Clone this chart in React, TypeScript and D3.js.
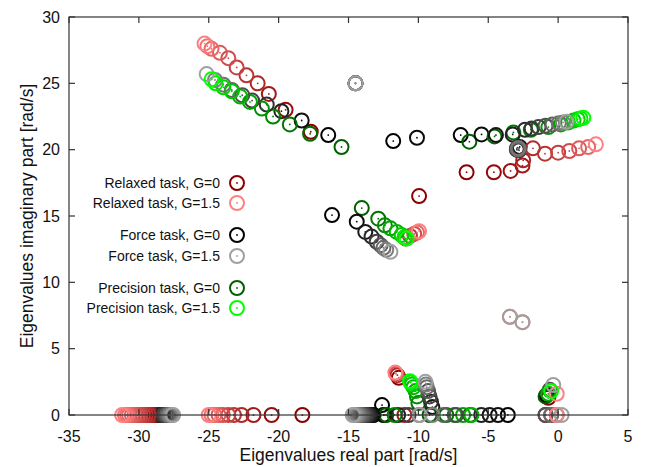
import React from "react";
import * as d3 from "d3";

const xTicks = [-35, -30, -25, -20, -15, -10, -5, 0, 5];
const yTicks = [0, 5, 10, 15, 20, 25, 30];
const taskNames = ["Relaxed task", "Force task", "Precision task"];
const gainValues = [0, 1.5];
const relaxedColors = ["#8b0000", "#ff8080"];
const forceColors = ["#000000", "#a0a0a0"];
const precisionColors = ["#006000", "#00ff00"];

// [G, real part, imaginary part]
const relaxedPoints: [number, number, number][] = [
  [0, -17.7, 21.35], [0.15, -19.5, 23.0], [0.3, -20.7, 24.2], [0.45, -21.5, 25.0], [0.6, -22.3, 25.6],
  [0.75, -23.0, 26.2], [0.9, -23.6, 26.9], [1.05, -24.2, 27.3], [1.2, -24.8, 27.6], [1.35, -25.1, 27.8], [1.5, -25.3, 28.0],
  [0, -6.55, 18.3], [0.1, -4.6, 18.3], [0.2, -3.4, 18.4], [0.3, -2.55, 18.8], [0.4, -2.5, 19.2], [0.5, -1.8, 20.1],
  [0.6, -0.94, 19.7], [0.75, 0.0, 19.77], [0.9, 0.8, 19.9], [1.05, 1.5, 20.1], [1.2, 2.15, 20.2], [1.5, 2.7, 20.4],
  [0, -9.95, 16.5], [0.3, -10.9, 13.3], [0.6, -10.6, 13.5], [0.9, -10.3, 13.65], [1.2, -10.1, 13.75], [1.5, -9.95, 13.85],
  [0, -11.4, 2.8], [0.5, -11.5, 3.0], [1.0, -11.6, 3.1], [1.5, -11.65, 3.2],
  [0, -0.7, 1.3], [1.5, -0.1, 1.6],
  [1.2, -3.45, 7.4], [1.2, -2.55, 7.0],
  [0, -28.3, 0], [0.1, -28.5, 0], [0.2, -28.7, 0], [0.3, -28.9, 0], [0.4, -29.1, 0], [0.5, -29.3, 0], [0.6, -29.5, 0],
  [0.7, -29.7, 0], [0.8, -29.9, 0], [0.9, -30.1, 0], [1.0, -30.3, 0], [1.1, -30.5, 0], [1.2, -30.7, 0], [1.3, -30.85, 0],
  [1.4, -31.0, 0], [1.5, -31.2, 0],
  [0, -18.3, 0], [0.15, -20.5, 0], [0.3, -21.8, 0], [0.45, -22.65, 0], [0.6, -23.2, 0], [0.75, -23.6, 0], [0.9, -24.0, 0],
  [1.05, -24.3, 0], [1.2, -24.6, 0], [1.35, -24.8, 0], [1.5, -25.0, 0],
  [0, -12.4, 0], [0.3, -11.0, 0],
  [0, -0.9, 0], [0.7, -0.5, 0], [1.5, -0.1, 0],
];

const forcePoints: [number, number, number][] = [
  [0, -16.45, 21.1], [0.15, -18.35, 22.2], [0.3, -19.8, 22.9], [0.45, -20.85, 23.4], [0.6, -21.9, 23.7],
  [0.75, -22.6, 24.1], [0.9, -23.35, 24.5], [1.05, -23.95, 24.9], [1.2, -24.55, 25.25], [1.5, -25.15, 25.7],
  [0, -14.5, 25.0], [0.5, -14.5, 25.0], [1.0, -14.5, 25.0], [1.5, -14.5, 25.0],
  [0, -11.8, 20.65], [0.1, -10.1, 20.9],
  [0.2, -2.75, 20.2], [0.3, -2.95, 20.0], [0.4, -2.8, 19.95], [0.5, -2.9, 20.15], [0.6, -2.85, 20.05],
  [0.7, -2.95, 20.1], [0.8, -2.8, 20.1], [0.9, -2.85, 20.0], [1.0, -2.9, 20.05], [1.1, -2.85, 20.1],
  [0, -6.97, 21.1], [0.1, -5.48, 21.15], [0.2, -4.45, 21.1], [0.3, -3.25, 21.15], [0.4, -2.37, 21.5], [0.5, -1.9, 21.6],
  [0.6, -1.4, 21.7], [0.75, -0.9, 21.8], [0.9, -0.4, 21.9], [1.05, 0.05, 22.0], [1.2, 0.35, 22.05], [1.5, 0.6, 22.1],
  [0, -16.18, 15.07], [0.1, -14.41, 14.57], [0.25, -13.8, 13.8], [0.4, -13.35, 13.45], [0.6, -12.98, 13.06],
  [0.8, -12.7, 12.8], [1.0, -12.5, 12.6], [1.2, -12.3, 12.45], [1.5, -12.0, 12.3],
  [0, -12.6, 0.75],
  [0.2, -9.0, 0.6], [0.4, -9.1, 1.0], [0.6, -9.2, 1.4], [0.8, -9.3, 1.8], [1.0, -9.4, 2.1], [1.2, -9.45, 2.3], [1.5, -9.5, 2.5],
  [1.5, -3.45, 7.4], [1.5, -2.55, 7.0],
  [0, -0.83, 1.5], [0.7, -0.6, 1.9], [1.5, -0.35, 2.26],
  [0, -28.8, 0], [0.15, -28.65, 0], [0.3, -28.5, 0], [0.45, -28.35, 0], [0.6, -28.2, 0], [0.75, -28.05, 0],
  [0.9, -27.95, 0], [1.05, -27.85, 0], [1.2, -27.75, 0], [1.35, -27.65, 0], [1.5, -27.55, 0],
  [0, -13.2, 0], [0.1, -13.3, 0], [0.2, -13.4, 0], [0.3, -13.5, 0], [0.4, -13.6, 0], [0.5, -13.7, 0], [0.6, -13.8, 0],
  [0.7, -13.9, 0], [0.8, -14.0, 0], [0.9, -14.1, 0], [1.0, -14.2, 0], [1.1, -14.3, 0], [1.2, -14.4, 0], [1.3, -14.5, 0],
  [1.4, -14.6, 0], [1.5, -14.7, 0],
  [0, -3.6, 0], [0.1, -4.3, 0], [0.2, -4.9, 0], [0.3, -5.5, 0], [0.5, -6.3, 0], [0.7, -7.3, 0], [0.9, -8.2, 0], [1.2, -9.0, 0], [1.5, -9.9, 0],
  [0, -12.5, 0], [0.3, -11.45, 0], [0.6, -10.7, 0], [1.0, -9.95, 0],
  [0.8, -0.9, 0], [1.0, -0.5, 0], [1.2, -0.1, 0], [1.5, 0.25, 0],
];

const precisionPoints: [number, number, number][] = [
  [0, -15.5, 20.2], [0.1, -17.75, 21.2], [0.2, -19.2, 21.9], [0.35, -20.4, 22.5], [0.5, -21.2, 23.1], [0.65, -22.05, 23.6],
  [0.8, -22.75, 24.0], [0.95, -23.35, 24.4], [1.1, -23.95, 24.7], [1.3, -24.5, 25.0], [1.5, -24.8, 25.3],
  [0, -6.35, 20.6], [0.1, -4.55, 21.0], [0.2, -3.2, 21.3], [0.35, -1.95, 21.5], [0.5, -0.7, 21.7], [0.65, 0.2, 21.9],
  [0.8, 0.7, 22.05], [0.95, 1.1, 22.2], [1.1, 1.4, 22.3], [1.3, 1.6, 22.35], [1.5, 1.8, 22.4],
  [0, -14.05, 15.6], [0.2, -12.87, 14.8], [0.4, -12.4, 14.3], [0.6, -12.0, 14.07], [0.8, -11.55, 13.8],
  [1.0, -11.2, 13.57], [1.25, -11.0, 13.4], [1.5, -10.85, 13.3],
  [0.2, -10.0, 0.9], [0.4, -10.1, 1.4], [0.6, -10.2, 1.8], [0.8, -10.35, 2.1], [1.0, -10.45, 2.3], [1.25, -10.55, 2.45], [1.5, -10.6, 2.55],
  [0, -0.9, 1.4], [0.7, -0.7, 1.6], [1.5, -0.5, 1.8],
  [0, -9.2, 0], [0.2, -8.0, 0], [0.4, -7.4, 0], [0.6, -6.8, 0], [0.8, -6.2, 0],
  [0, -12.3, 0], [0.3, -11.7, 0],
];

const W = 646;
const H = 467;
const left = 69;
const right = 628;
const top = 17;
const bottom = 415;

export default function App() {
  const x = d3.scaleLinear().domain([-35, 5]).range([left, right]);
  const y = d3.scaleLinear().domain([0, 30]).range([bottom, top]);
  const colorSets = [relaxedColors, forceColors, precisionColors];
  const pointSets = [relaxedPoints, forcePoints, precisionPoints];
  const colorOf = (task: number, g: number) =>
    d3.interpolateRgb(colorSets[task][0], colorSets[task][1])(g / 1.5);

  const all: { task: number; g: number; re: number; im: number; order: number }[] = [];
  pointSets.forEach((pts, task) =>
    pts.forEach((p, i) => all.push({ task, g: p[0], re: p[1], im: p[2], order: task * 1000 + i }))
  );
  all.sort((a, b) => (a.g - b.g) || (a.task - b.task) || (a.order - b.order));

  const legendRows: { label: string; color: string; y: number }[] = [];
  const rowYs = [183, 203, 235, 256, 288, 308];
  taskNames.forEach((t, ti) =>
    gainValues.forEach((g, gi) =>
      legendRows.push({
        label: `${t}, G=${g}`,
        color: colorSets[ti][gi],
        y: rowYs[ti * 2 + gi],
      })
    )
  );

  const font = "'Liberation Sans', Arial, Helvetica, sans-serif";
  const border = "#333";

  return (
    <svg width={W} height={H} style={{ position: "absolute", left: 0, top: 0, background: "#fff" }}>
      <g>
        {all.map((p, i) => {
          const c = colorOf(p.task, p.g);
          return (
            <g key={i}>
              <circle cx={x(p.re)} cy={y(p.im)} r={7} fill="none" stroke={c} strokeWidth={2} />
              <circle cx={x(p.re)} cy={y(p.im)} r={0.9} fill={c} />
            </g>
          );
        })}
      </g>
      <rect x={left} y={top} width={right - left} height={bottom - top} fill="none" stroke={border} strokeWidth={1.2} />
      {yTicks.map((t) => (
        <g key={"y" + t}>
          <line x1={left} x2={left + 6} y1={y(t)} y2={y(t)} stroke={border} strokeWidth={1.2} />
          <line x1={right} x2={right - 6} y1={y(t)} y2={y(t)} stroke={border} strokeWidth={1.2} />
          <text x={left - 9} y={y(t)} dy="0.36em" textAnchor="end" fontFamily={font} fontSize={16} fill="#111">
            {t}
          </text>
        </g>
      ))}
      {xTicks.map((t) => (
        <g key={"x" + t}>
          <line x1={x(t)} x2={x(t)} y1={bottom} y2={bottom - 6} stroke={border} strokeWidth={1.2} />
          <line x1={x(t)} x2={x(t)} y1={top} y2={top + 6} stroke={border} strokeWidth={1.2} />
          <text x={x(t)} y={442} textAnchor="middle" fontFamily={font} fontSize={16} fill="#111">
            {t}
          </text>
        </g>
      ))}
      <text x={(left + right) / 2} y={461} textAnchor="middle" fontFamily={font} fontSize={17.5} fill="#111">
        Eigenvalues real part [rad/s]
      </text>
      <text
        transform={`translate(27,${(top + bottom) / 2}) rotate(-90)`}
        textAnchor="middle"
        dy="0.35em"
        fontFamily={font}
        fontSize={17.5}
        fill="#111"
      >
        Eigenvalues imaginary part [rad/s]
      </text>
      {legendRows.map((r, i) => (
        <g key={"l" + i}>
          <text x={220} y={r.y} dy="0.36em" textAnchor="end" fontFamily={font} fontSize={14} fill="#111">
            {r.label}
          </text>
          <circle cx={237} cy={r.y} r={7} fill="none" stroke={r.color} strokeWidth={2} />
          <circle cx={237} cy={r.y} r={0.9} fill={r.color} />
        </g>
      ))}
    </svg>
  );
}
